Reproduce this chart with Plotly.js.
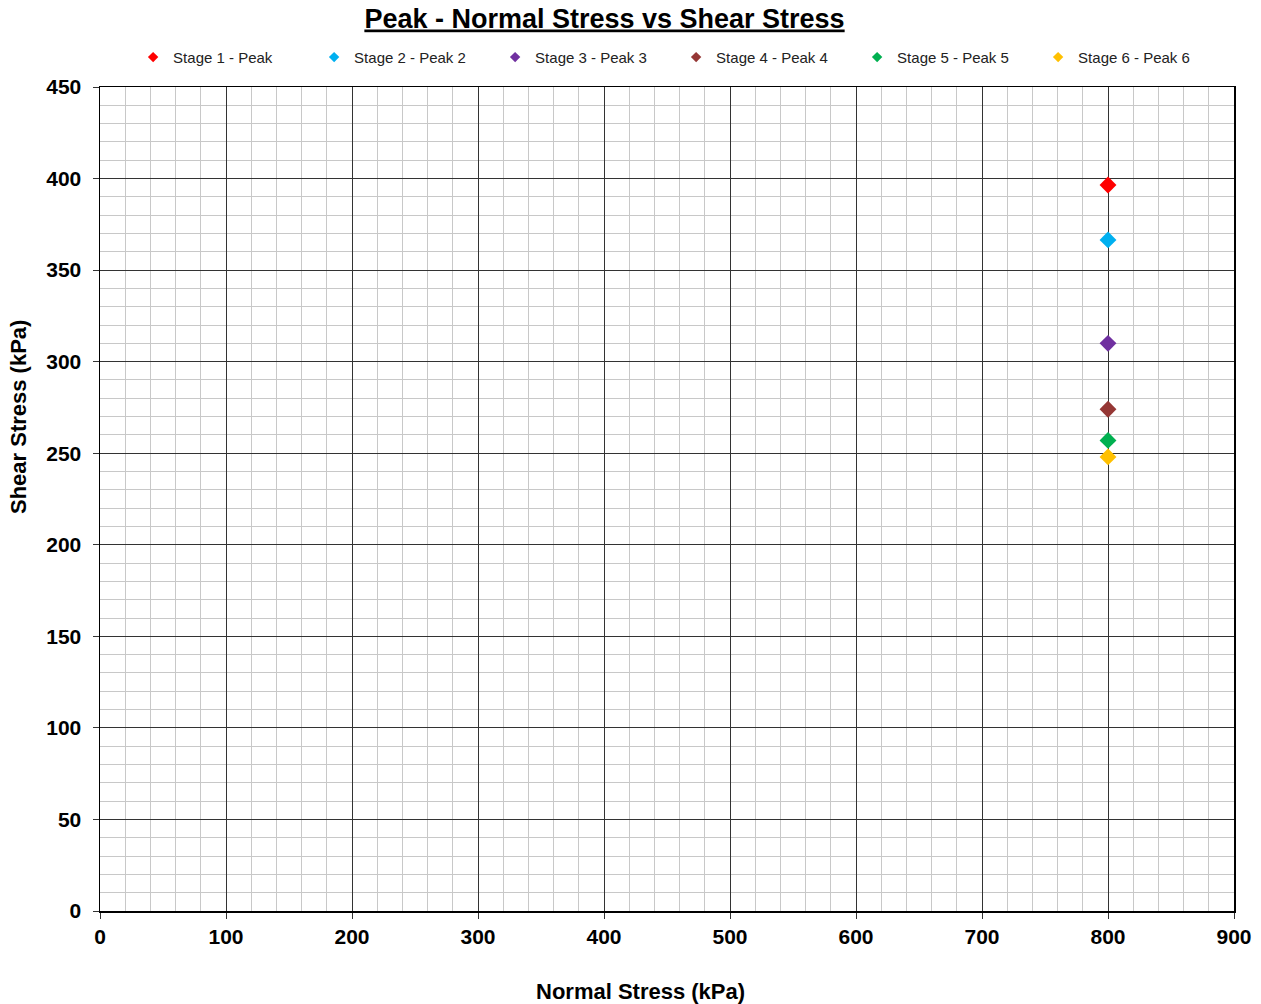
<!DOCTYPE html>
<html>
<head>
<meta charset="utf-8">
<script src="https://cdn.plot.ly/plotly-3.0.1.min.js"></script>
<style>html,body{margin:0;padding:0;background:#fff;}#chart{width:1261px;height:1004px;}</style>
</head>
<body>
<div id="chart"></div>
<script>
const seriesNames = ["Stage 1 - Peak", "Stage 2 - Peak 2", "Stage 3 - Peak 3", "Stage 4 - Peak 4", "Stage 5 - Peak 5", "Stage 6 - Peak 6"];
const normalStress = [800, 800, 800, 800, 800, 800];
const shearStress = [396.5, 366.5, 310, 274, 257, 248];
const colors = ["#ff0000", "#00b0f0", "#7030a0", "#953735", "#00b050", "#ffc000"];
const xTitle = "Normal Stress (kPa)";
const yTitle = "Shear Stress (kPa)";
const chartTitle = "Peak - Normal Stress vs Shear Stress";

const font = "Liberation Sans, Arial, sans-serif";

const dataTraces = seriesNames.map((name, i) => ({
  type: "scatter",
  mode: "markers",
  name: name,
  legendgroup: "g" + i,
  showlegend: false,
  x: [normalStress[i]],
  y: [shearStress[i]],
  marker: {symbol: "diamond", size: 13, color: colors[i]}
}));
// legend entries with the smaller legend symbol
const legendTraces = seriesNames.map((name, i) => ({
  type: "scatter",
  mode: "markers",
  name: name,
  legendgroup: "g" + i,
  showlegend: true,
  x: [null],
  y: [null],
  marker: {symbol: "diamond", size: 8, color: colors[i]}
}));

const layout = {
  width: 1261, height: 1004,
  margin: {l: 100, r: 27, t: 87, b: 93},
  paper_bgcolor: "#fff", plot_bgcolor: "#fff",
  font: {family: font, color: "#000"},
  title: {text: "<b>" + chartTitle + "</b>", x: 0.4794, xanchor: "center", y: 0.982, yanchor: "middle",
          font: {size: 27, family: font, color: "#000", lineposition: "under"}},
  showlegend: true,
  legend: {orientation: "h", x: 0.0292, xanchor: "left", y: 1.036, yanchor: "middle",
           font: {size: 15, family: font, color: "#222"}, entrywidth: 136, itemwidth: 30,
           bgcolor: "rgba(0,0,0,0)"},
  xaxis: {
    range: [0, 900], dtick: 100, tick0: 0,
    showgrid: true, gridcolor: "#333", gridwidth: 1,
    minor: {dtick: 20, showgrid: true, gridcolor: "#c8c8c8", gridwidth: 1},
    showline: true, linecolor: "#000", linewidth: 1.5, mirror: true,
    ticks: "outside", ticklen: 6, tickcolor: "#333",
    zeroline: false,
    tickfont: {size: 21, family: font, color: "#000", weight: "bold"}
  },
  yaxis: {
    range: [0, 450], dtick: 50, tick0: 0,
    showgrid: true, gridcolor: "#333", gridwidth: 1,
    minor: {dtick: 10, showgrid: true, gridcolor: "#c8c8c8", gridwidth: 1},
    showline: true, linecolor: "#000", linewidth: 1.5, mirror: true,
    ticks: "outside", ticklen: 6, tickcolor: "#333", ticklabelstandoff: 7,
    zeroline: false,
    tickfont: {size: 21, family: font, color: "#000", weight: "bold"}
  },
  annotations: [
    {text: "<b>" + xTitle + "</b>", xref: "paper", yref: "paper", x: 0.4762, y: -0.0971,
     xanchor: "center", yanchor: "middle", showarrow: false, font: {size: 22, family: font, color: "#000"}},
    {text: "<b>" + yTitle + "</b>", xref: "paper", yref: "paper", x: -0.0723, y: 0.5995,
     xanchor: "center", yanchor: "middle", textangle: -90, showarrow: false, font: {size: 22, family: font, color: "#000"}}
  ]
};

Plotly.newPlot("chart", dataTraces.concat(legendTraces), layout, {displayModeBar: false, staticPlot: true});
</script>
</body>
</html>
